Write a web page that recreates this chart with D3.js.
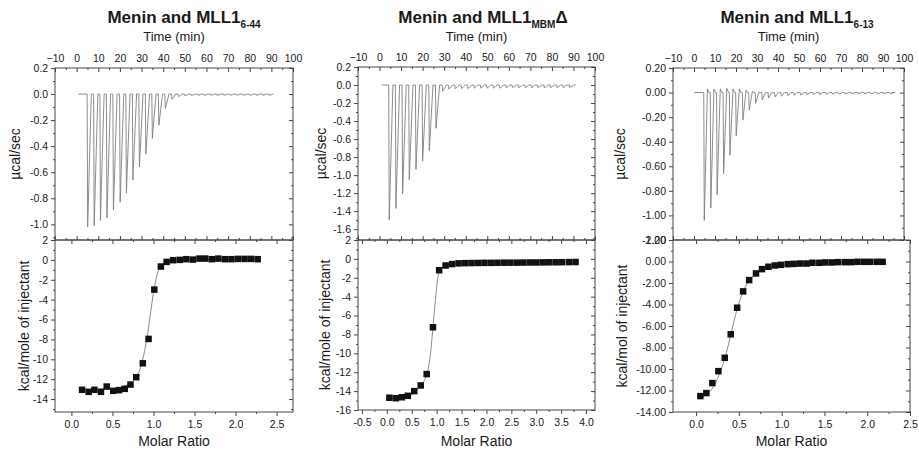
<!DOCTYPE html>
<html lang='en'>
<head>
<meta charset='utf-8'>
<title>ITC - Menin and MLL1</title>
<script src='https://cdn.jsdelivr.net/npm/d3@7'></script>
<style>
  body { margin: 0; background: #fff; }
  text { font-family: Arial, 'Liberation Sans', sans-serif; fill: #1a1a1a; }
</style>
</head>
<body>
<script>
// ---- panel 1 : Menin and MLL1 6-44
var p1_inj_time = [5.1, 8.1, 11.0, 14.0, 17.0, 20.1, 23.0, 26.0, 29.0, 32.0, 35.0, 38.0, 41.0, 44.1, 47.1,
                   50.1, 53.1, 56.1, 59.1, 62.1, 65.1, 68.1, 71.1, 74.1, 77.1, 80.1, 83.1, 86.1, 89.1];
var p1_peak = [-1.02, -1.01, -0.97, -0.95, -0.89, -0.83, -0.76, -0.66, -0.56, -0.46, -0.34, -0.24, -0.11, -0.04, -0.02,
               -0.015, -0.012, -0.01, -0.01, -0.01, -0.01, -0.01, -0.01, -0.01, -0.01, -0.01, -0.01, -0.01, -0.01];
var p1_ratio = [0.13, 0.21, 0.28, 0.36, 0.43, 0.51, 0.58, 0.65, 0.72, 0.79, 0.87, 0.94, 1.01, 1.09, 1.16,
                1.24, 1.32, 1.40, 1.48, 1.56, 1.63, 1.71, 1.79, 1.87, 1.95, 2.03, 2.11, 2.19, 2.27];
var p1_heat = [-13.07, -13.27, -13.07, -13.27, -12.74, -13.17, -13.1, -12.97, -12.54, -11.8, -10.4, -7.95, -2.99, -0.67, -0.2,
               -0.03, 0.0, 0.07, 0.03, 0.13, 0.13, 0.07, 0.13, 0.07, 0.07, 0.1, 0.1, 0.1, 0.07];
var p1_fit_x = [0.13, 0.5, 0.7, 0.78, 0.84, 0.88, 0.92, 0.96, 1.0, 1.04, 1.08, 1.14, 1.25, 1.5, 2.27];
var p1_fit_y = [-13.05, -12.95, -12.5, -11.9, -10.9, -9.6, -7.9, -5.6, -3.3, -1.6, -0.7, -0.25, -0.05, 0.05, 0.08];

// ---- panel 2 : Menin and MLL1 MBM delta
var p2_inj_time = [4.5, 7.6, 10.7, 13.8, 16.9, 20.0, 23.1, 26.2, 29.3, 32.2, 35.2, 38.1, 41.1, 44.0, 47.0,
                   49.9, 52.9, 55.8, 58.8, 61.7, 64.7, 67.6, 70.6, 73.5, 76.5, 79.4, 82.4, 85.3, 88.3];
var p2_peak = [-1.50, -1.37, -1.21, -1.05, -0.935, -0.846, -0.73, -0.48, -0.07, -0.045, -0.04, -0.04, -0.04, -0.035, -0.035,
               -0.035, -0.035, -0.035, -0.03, -0.03, -0.03, -0.03, -0.03, -0.03, -0.03, -0.03, -0.03, -0.03, -0.03];
var p2_ratio = [0.05, 0.18, 0.30, 0.42, 0.55, 0.68, 0.80, 0.925, 1.05, 1.18, 1.31, 1.44, 1.57, 1.70, 1.83,
                1.96, 2.09, 2.22, 2.35, 2.48, 2.61, 2.74, 2.87, 3.00, 3.13, 3.26, 3.39, 3.52, 3.66, 3.79];
var p2_heat = [-14.7, -14.75, -14.65, -14.5, -14.0, -13.4, -12.2, -7.24, -1.2, -0.7, -0.55, -0.47, -0.45, -0.44, -0.43,
               -0.42, -0.42, -0.41, -0.4, -0.4, -0.4, -0.39, -0.38, -0.38, -0.37, -0.36, -0.36, -0.35, -0.34, -0.33];
var p2_fit_x = [0.05, 0.4, 0.6, 0.75, 0.82, 0.87, 0.92, 0.97, 1.02, 1.07, 1.15, 1.3, 1.6, 3.79];
var p2_fit_y = [-14.75, -14.6, -13.9, -12.9, -11.9, -10.3, -7.6, -4.6, -2.1, -1.1, -0.75, -0.55, -0.45, -0.33];

// ---- panel 3 : Menin and MLL1 6-13
var p3_inj_time = [4.9, 8.0, 11.0, 14.1, 17.1, 20.1, 23.3, 26.3, 29.4, 32.5, 35.5, 38.6, 41.6, 44.7, 47.7,
                   50.8, 53.8, 56.9, 59.9, 63.0, 66.0, 69.1, 72.1, 75.2, 78.2, 81.3, 84.3, 87.4, 90.4, 93.5];
var p3_peak = [-1.04, -0.94, -0.83, -0.66, -0.51, -0.354, -0.223, -0.142, -0.087, -0.06, -0.044, -0.035, -0.03, -0.025, -0.022,
               -0.02, -0.018, -0.016, -0.015, -0.014, -0.013, -0.012, -0.012, -0.011, -0.01, -0.01, -0.01, -0.01, -0.01, -0.01];
var p3_rebound = [0.03, 0.03, 0.03, 0.035, 0.03, 0.03, 0.02, 0.01, 0.005, 0, 0, 0, 0, 0, 0,
                  0, 0, 0, 0, 0, 0, 0, 0, 0, 0, 0, 0, 0, 0, 0];
var p3_ratio = [0.05, 0.12, 0.19, 0.26, 0.335, 0.405, 0.48, 0.55, 0.62, 0.70, 0.77, 0.845, 0.92, 0.99, 1.07,
                1.14, 1.215, 1.29, 1.36, 1.44, 1.51, 1.585, 1.66, 1.74, 1.81, 1.885, 1.96, 2.03, 2.11, 2.18];
var p3_heat = [-12.52, -12.24, -11.31, -10.2, -8.96, -6.77, -4.30, -2.78, -1.73, -1.11, -0.71, -0.49, -0.37, -0.31, -0.25,
               -0.22, -0.19, -0.19, -0.12, -0.12, -0.09, -0.09, -0.06, -0.06, -0.06, -0.03, -0.03, -0.03, -0.03, -0.03];
var p3_fit_x = [0.05, 0.15, 0.22, 0.28, 0.34, 0.4, 0.46, 0.52, 0.58, 0.65, 0.72, 0.8, 0.9, 1.1, 1.5, 2.18];
var p3_fit_y = [-12.6, -12.2, -11.4, -10.3, -8.9, -7.0, -5.0, -3.4, -2.3, -1.5, -1.0, -0.65, -0.42, -0.25, -0.12, -0.03];

// ---- titles and tick labels
var titles = [['Menin and MLL1', '6-44', ''], ['Menin and MLL1', 'MBM', '\u0394'], ['Menin and MLL1', '6-13', '']];
var time_ticks = [-10, 0, 10, 20, 30, 40, 50, 60, 70, 80, 90, 100];
var raw_ticks = [[0.2, 0.0, -0.2, -0.4, -0.6, -0.8, -1.0],
                 [0.2, 0.0, -0.2, -0.4, -0.6, -0.8, -1.0, -1.2, -1.4, -1.6],
                 [0.2, 0.0, -0.2, -0.4, -0.6, -0.8, -1.0, -1.2]];
var heat_ticks = [[2, 0, -2, -4, -6, -8, -10, -12, -14],
                  [2, 0, -2, -4, -6, -8, -10, -12, -14, -16],
                  [2, 0, -2, -4, -6, -8, -10, -12, -14]];
var ratio_ticks = [[0.0, 0.5, 1.0, 1.5, 2.0, 2.5],
                   [-0.5, 0.0, 0.5, 1.0, 1.5, 2.0, 2.5, 3.0, 3.5, 4.0],
                   [0.0, 0.5, 1.0, 1.5, 2.0, 2.5]];
var heat_labels = ['kcal/mole of injectant', 'kcal/mole of injectant', 'kcal/mol of injectant'];
var decimals = [[1, 0], [1, 0], [2, 2]];

var panels = [
  {inj: p1_inj_time, peak: p1_peak, reb: null, ratio: p1_ratio, heat: p1_heat, fx: p1_fit_x, fy: p1_fit_y,
   trace: [0.8, 91], rawDom: [-1.12, 0.2], heatDom: [-15.3, 2], ratioDom: [-0.2, 2.7],
   L: 55, Rt: 293, Rb: 293, top: 68, mid: 240, bot: 412, titleX: 184, lab1X: 20, lab2X: 29},
  {inj: p2_inj_time, peak: p2_peak, reb: null, ratio: p2_ratio, heat: p2_heat, fx: p2_fit_x, fy: p2_fit_y,
   trace: [1, 91], rawDom: [-1.72, 0.2], heatDom: [-16, 2], ratioDom: [-0.58, 4.18],
   L: 358, Rt: 595, Rb: 595, top: 67, mid: 240, bot: 410, titleX: 483, lab1X: 326, lab2X: 330},
  {inj: p3_inj_time, peak: p3_peak, reb: p3_rebound, ratio: p3_ratio, heat: p3_heat, fx: p3_fit_x, fy: p3_fit_y,
   trace: [0, 94], rawDom: [-1.2, 0.2], heatDom: [-14, 2], ratioDom: [-0.27, 2.5],
   L: 673, Rt: 904, Rb: 910, top: 68, mid: 240, bot: 412, titleX: 797, lab1X: 625, lab2X: 627}
];

var width = 919, height = 452;
var svg = d3.select('body').append('svg').attr('width', width).attr('height', height);

function fmt(n) { return function(d) { return d.toFixed(n); }; }

function tidy(sel) {
  sel.select('.domain').remove();
  sel.selectAll('line').attr('stroke', '#444');
  sel.selectAll('text').attr('font-size', '10.5px').attr('fill', '#222').attr('font-family', 'Arial, Liberation Sans, sans-serif');
}

function axis(g, gen, x, y) {
  var a = g.append('g').attr('transform', 'translate(' + x + ',' + y + ')').call(gen);
  tidy(a);
  return a;
}

panels.forEach(function(p, i) {
  var g = svg.append('g');
  var xT = d3.scaleLinear().domain([-10, 100]).range([p.L, p.Rt]);
  var yT = d3.scaleLinear().domain(p.rawDom).range([p.mid, p.top]);
  var xB = d3.scaleLinear().domain(p.ratioDom).range([p.L, p.Rb]);
  var yB = d3.scaleLinear().domain(p.heatDom).range([p.bot, p.mid]);

  // title
  var t = g.append('text').attr('x', p.titleX).attr('y', 23).attr('text-anchor', 'middle')
    .attr('font-size', '17px').attr('font-weight', 'bold').attr('fill', '#111');
  t.append('tspan').text(titles[i][0]);
  t.append('tspan').attr('font-size', '10px').attr('dy', 5).text(titles[i][1]);
  if (titles[i][2]) t.append('tspan').attr('dy', -5).text(titles[i][2]);

  g.append('text').attr('x', (p.L + p.Rt) / 2).attr('y', 41).attr('text-anchor', 'middle')
    .attr('font-size', '13px').text('Time (min)');
  g.append('text').attr('x', (p.L + p.Rb) / 2).attr('y', 446).attr('text-anchor', 'middle')
    .attr('font-size', '14px').text('Molar Ratio');
  g.append('text').attr('transform', 'translate(' + p.lab1X + ',' + (p.top + p.mid) / 2 + ')rotate(-90)')
    .attr('text-anchor', 'middle').attr('font-size', '14px').text('\u00b5cal/sec');
  g.append('text').attr('transform', 'translate(' + p.lab2X + ',' + (p.mid + p.bot) / 2 + ')rotate(-90)')
    .attr('text-anchor', 'middle').attr('font-size', '14px').text(heat_labels[i]);

  // ---- top plot axes
  var timeMinor = d3.range(-5, 100, 10);
  axis(g, d3.axisTop(xT).tickValues(time_ticks).tickSize(-4).tickPadding(6).tickFormat(d3.format('d')), 0, p.top);
  axis(g, d3.axisTop(xT).tickValues(timeMinor).tickSize(-2).tickFormat(''), 0, p.top);
  axis(g, d3.axisBottom(xT).tickValues(time_ticks).tickSize(-4).tickFormat(''), 0, p.mid);
  axis(g, d3.axisBottom(xT).tickValues(timeMinor).tickSize(-2).tickFormat(''), 0, p.mid);
  var rawMinor = d3.range(0.1, p.rawDom[0], -0.2);
  axis(g, d3.axisLeft(yT).tickValues(raw_ticks[i]).tickSize(4).tickPadding(3).tickFormat(fmt(decimals[i][0])), p.L, 0);
  axis(g, d3.axisLeft(yT).tickValues(rawMinor).tickSize(2).tickFormat(''), p.L, 0);
  axis(g, d3.axisRight(yT).tickValues(raw_ticks[i]).tickSize(-4).tickFormat(''), p.Rt, 0);
  axis(g, d3.axisRight(yT).tickValues(rawMinor).tickSize(-2).tickFormat(''), p.Rt, 0);

  // ---- bottom plot axes
  var ratioMinor = d3.range(ratio_ticks[i][0] + 0.25, p.ratioDom[1], 0.5);
  axis(g, d3.axisBottom(xB).tickValues(ratio_ticks[i]).tickSize(4).tickPadding(5).tickFormat(fmt(1)), 0, p.bot);
  axis(g, d3.axisBottom(xB).tickValues(ratioMinor).tickSize(2).tickFormat(''), 0, p.bot);
  axis(g, d3.axisTop(xB).tickValues(ratio_ticks[i]).tickSize(-4).tickFormat(''), 0, p.mid);
  axis(g, d3.axisTop(xB).tickValues(ratioMinor).tickSize(-2).tickFormat(''), 0, p.mid);
  var heatMinor = d3.range(1, p.heatDom[0], -2);
  axis(g, d3.axisLeft(yB).tickValues(heat_ticks[i]).tickSize(4).tickPadding(3).tickFormat(fmt(decimals[i][1])), p.L, 0);
  axis(g, d3.axisLeft(yB).tickValues(heatMinor).tickSize(2).tickFormat(''), p.L, 0);
  axis(g, d3.axisRight(yB).tickValues(heat_ticks[i]).tickSize(-4).tickFormat(''), p.Rb, 0);
  axis(g, d3.axisRight(yB).tickValues(heatMinor).tickSize(-2).tickFormat(''), p.Rb, 0);

  // frames
  g.append('rect').attr('x', p.L).attr('y', p.top).attr('width', p.Rt - p.L).attr('height', p.mid - p.top)
    .attr('fill', 'none').attr('stroke', '#444').attr('stroke-width', 1);
  g.append('rect').attr('x', p.L).attr('y', p.mid).attr('width', p.Rb - p.L).attr('height', p.bot - p.mid)
    .attr('fill', 'none').attr('stroke', '#444').attr('stroke-width', 1);

  // ---- raw thermogram
  var pts = [[p.trace[0], 0]];
  p.inj.forEach(function(tm, k) {
    pts.push([tm - 0.25, 0]);
    pts.push([tm, p.peak[k]]);
    if (p.reb) {
      pts.push([tm + 1.5, p.reb[k]]);
      pts.push([tm + 2.3, 0]);
    } else {
      pts.push([tm + 1.7, 0]);
    }
  });
  pts.push([p.trace[1], 0]);
  g.append('path').datum(pts)
    .attr('d', d3.line().x(function(d) { return xT(d[0]); }).y(function(d) { return yT(d[1]); }))
    .attr('fill', 'none').attr('stroke', '#808080').attr('stroke-width', 0.9);

  // ---- fit and integrated heats
  var fit = p.fx.map(function(x, k) { return [x, p.fy[k]]; });
  g.append('path').datum(fit)
    .attr('d', d3.line().curve(d3.curveMonotoneX).x(function(d) { return xB(d[0]); }).y(function(d) { return yB(d[1]); }))
    .attr('fill', 'none').attr('stroke', '#8a8a8a').attr('stroke-width', 1);

  var sq = 6.5;
  g.selectAll('rect.pt').data(p.ratio).enter().append('rect').attr('class', 'pt')
    .attr('x', function(d) { return xB(d) - sq / 2; })
    .attr('y', function(d, k) { return yB(p.heat[k]) - sq / 2; })
    .attr('width', sq).attr('height', sq).attr('fill', '#111');
});
</script>
</body>
</html>
